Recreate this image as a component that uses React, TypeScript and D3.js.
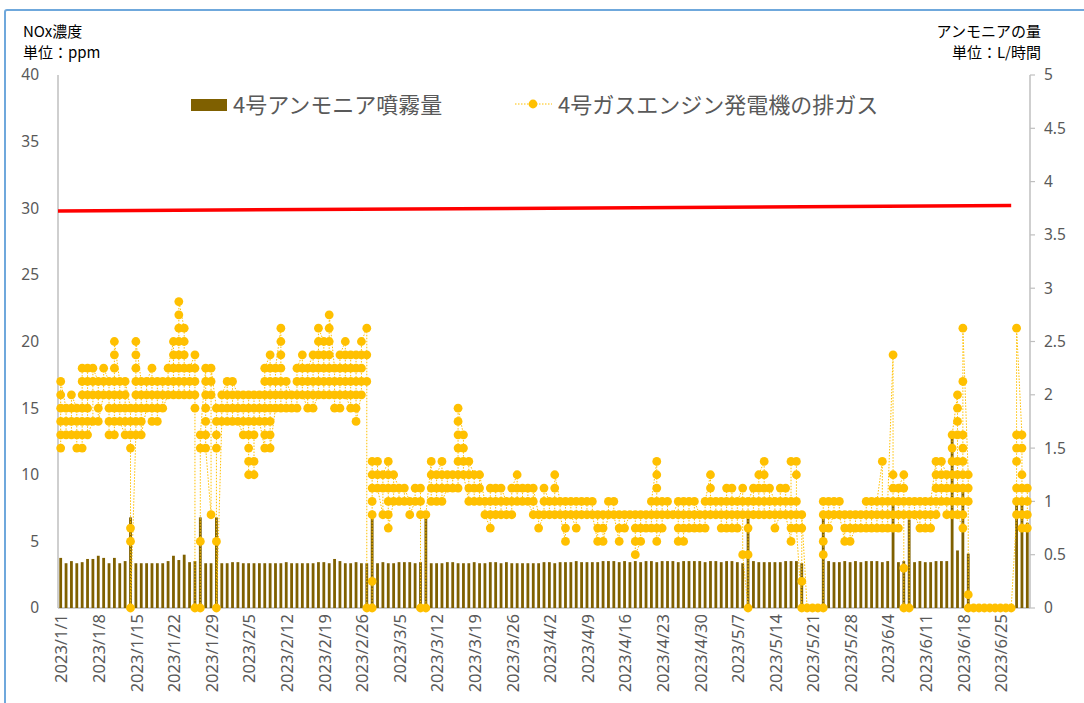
import React from 'react';
import * as d3 from 'd3';

// 2023/1/1 .. 2023/6/30
const dates = d3.timeDay.range(new Date(2023, 0, 1), new Date(2023, 6, 1));
const fmt = d3.timeFormat('%Y/%-m/%-d');

// 4号アンモニア噴霧量 (L/時間), one value per day
const ammoniaJan = [0.47, 0.42, 0.44, 0.42, 0.43, 0.46, 0.46, 0.49, 0.47, 0.42, 0.47, 0.42, 0.44, 0.85, 0.42, 0.42, 0.42, 0.42, 0.42, 0.42, 0.44, 0.49, 0.45, 0.5, 0.43, 0.44, 0.85, 0.42, 0.42, 0.85, 0.42];
const ammoniaFeb = [0.42, 0.43, 0.43, 0.42, 0.42, 0.42, 0.42, 0.42, 0.42, 0.42, 0.42, 0.43, 0.42, 0.42, 0.42, 0.42, 0.42, 0.43, 0.43, 0.42, 0.46, 0.44, 0.42, 0.42, 0.43, 0.42, 0.42, 0.84];
const ammoniaMar = [0.42, 0.43, 0.42, 0.42, 0.43, 0.43, 0.43, 0.42, 0.43, 0.85, 0.42, 0.42, 0.42, 0.43, 0.43, 0.42, 0.42, 0.42, 0.43, 0.42, 0.42, 0.43, 0.43, 0.42, 0.43, 0.42, 0.42, 0.42, 0.42, 0.42, 0.42];
const ammoniaApr = [0.43, 0.43, 0.42, 0.43, 0.43, 0.43, 0.44, 0.43, 0.43, 0.43, 0.43, 0.44, 0.44, 0.44, 0.43, 0.44, 0.43, 0.44, 0.43, 0.44, 0.44, 0.43, 0.44, 0.44, 0.44, 0.43, 0.44, 0.44, 0.44, 0.44];
const ammoniaMay = [0.43, 0.44, 0.44, 0.43, 0.44, 0.44, 0.43, 0.42, 0.84, 0.44, 0.43, 0.43, 0.43, 0.43, 0.43, 0.44, 0.44, 0.44, 0.42, 0, 0, 0, 0.85, 0.44, 0.43, 0.43, 0.44, 0.43, 0.44, 0.43, 0.44];
const ammoniaJun = [0.44, 0.44, 0.43, 0.44, 1.0, 0.43, 0.44, 0.83, 0.43, 0.44, 0.43, 0.43, 0.44, 0.44, 0.44, 1.6, 0.54, 1.1, 0.51, 0, 0, 0, 0, 0, 0, 0, 0, 1.03, 1.0, 0.8];
const ammonia = [...ammoniaJan, ...ammoniaFeb, ...ammoniaMar, ...ammoniaApr, ...ammoniaMay, ...ammoniaJun];

// 4号ガスエンジン発電機の排ガス NOx (ppm), readings of each day
const noxJan = [
  [12, 13, 14, 15, 16, 17], [13, 14, 15], [13, 14, 15, 16], [12, 13, 14, 15], [12, 13, 14, 15, 16, 17, 18],
  [13, 14, 15, 16, 17, 18], [14, 16, 17, 18], [14, 15, 16, 17], [16, 17, 18], [13, 14, 15, 16, 17],
  [13, 14, 15, 16, 17, 18, 19, 20], [14, 15, 16, 17], [13, 14, 15, 16, 17], [0, 5, 6, 12, 13, 14, 15],
  [13, 14, 15, 16, 17, 18, 19, 20], [13, 14, 15, 16, 17], [15, 16, 17], [14, 15, 16, 17, 18], [14, 15, 16, 17],
  [15, 16, 17], [16, 17, 18], [16, 17, 18, 19, 20], [16, 17, 18, 19, 20, 21, 22, 23], [16, 17, 18, 19, 20, 21],
  [16, 17, 18], [0, 15, 16, 17, 18, 19], [0, 5, 12, 13], [12, 13, 14, 15, 16, 17, 18], [7, 16, 17, 18],
  [0, 5, 12, 13, 14, 15], [14, 15, 16],
];
const noxFeb = [
  [14, 15, 16, 17], [14, 15, 16, 17], [14, 15, 16], [13, 14, 15, 16], [10, 11, 12, 13, 14, 15, 16],
  [10, 11, 13, 14, 15, 16], [14, 15, 16], [12, 13, 14, 15, 16, 17, 18], [12, 13, 14, 15, 16, 17, 18, 19],
  [15, 16, 17, 18], [15, 16, 17, 18, 19, 20, 21], [15, 16, 17], [15, 16], [15, 16, 17, 18], [16, 17, 18, 19],
  [15, 16, 17, 18], [15, 16, 17, 18, 19], [16, 17, 18, 19, 20, 21], [16, 17, 18, 19, 20],
  [16, 17, 18, 19, 20, 21, 22], [15, 16, 17, 18], [15, 16, 17, 18, 19], [16, 17, 18, 19, 20],
  [15, 16, 17, 18, 19], [14, 15, 16, 17, 18, 19], [16, 17, 18, 19, 20], [0, 17, 19, 21], [0, 2, 7, 8, 9, 10, 11],
];
const noxMar = [
  [9, 10, 11], [7, 9, 10], [6, 7, 8, 9, 10, 11], [8, 9, 10], [8, 9], [8, 9], [7, 8], [8, 9], [0, 7, 8, 9], [0, 7],
  [8, 9, 10, 11], [8, 9, 10], [8, 9, 10, 11], [9, 10], [9, 10], [9, 10, 11, 12, 13, 14, 15], [10, 11, 12, 13],
  [8, 9, 10, 11], [8, 9, 10], [8, 9, 10], [7, 8], [6, 7, 8, 9], [7, 8, 9], [7, 8, 9], [7, 8], [7, 8, 9],
  [8, 9, 10], [8, 9], [8, 9], [7, 8, 9], [6, 7],
];
const noxApr = [
  [7, 8, 9], [7, 8], [7, 8, 9, 10], [7, 8], [5, 6, 7, 8], [7, 8], [6, 7, 8], [7, 8], [7, 8], [7, 8],
  [5, 6, 7], [5, 6, 7], [7, 8], [7, 8], [5, 6, 7], [6, 7], [7], [4, 5, 6, 7], [5, 6, 7], [6, 7],
  [6, 7, 8], [5, 6, 7, 8, 9, 10, 11], [6, 7, 8], [7, 8], [7], [5, 6, 7, 8], [5, 6, 7, 8], [6, 7, 8], [6, 7, 8], [6, 7],
];
const noxMay = [
  [6, 7, 8], [7, 8, 9, 10], [7, 8], [6, 7, 8], [6, 7, 8, 9], [6, 7, 8, 9], [6, 7, 8], [4, 7, 8, 9], [0, 4, 6, 7, 8],
  [7, 8, 9], [7, 8, 9, 10], [7, 8, 9, 10, 11], [7, 8, 9], [6, 7, 8], [7, 8, 9], [7, 8, 9], [5, 6, 7, 8, 11],
  [6, 7, 8, 10, 11], [0, 2, 6, 7], [0], [0], [0], [0, 4, 5, 6, 7, 8], [6, 7, 8], [7, 8], [7, 8], [5, 6, 7],
  [5, 6, 7], [6, 7], [6, 7], [6, 7, 8],
];
const noxJun = [
  [6, 7, 8], [6, 7, 8], [6, 7, 8, 11], [6, 7, 8], [6, 7, 8, 9, 10, 19], [6, 7, 8, 9], [0, 3, 7, 8, 9, 10],
  [0, 7, 8], [7, 8], [6, 7, 8], [6, 7, 8], [6, 7, 8], [7, 8, 9, 10, 11], [8, 9, 10, 11], [7, 8, 9, 10],
  [7, 8, 9, 10, 11, 12, 13], [7, 8, 9, 10, 11, 13, 14, 15, 16], [6, 7, 8, 9, 10, 11, 12, 13, 17, 21],
  [0, 1, 8, 9, 10], [0], [0], [0], [0], [0], [0], [0], [0], [7, 8, 9, 11, 12, 13, 21], [6, 7, 8, 9, 10, 12, 13],
  [6, 7, 8, 9],
];
const nox = [...noxJan, ...noxFeb, ...noxMar, ...noxApr, ...noxMay, ...noxJun];

// red reference line (ppm) from 2023/1/1 to 2023/6/27
const limitValues = [29.8, 30.2];
const limitEndIndex = 177;

const leftTicks = [0, 5, 10, 15, 20, 25, 30, 35, 40];
const rightTicks = [0, 0.5, 1, 1.5, 2, 2.5, 3, 3.5, 4, 4.5, 5];

const W = 1084;
const H = 703;
const FONT = '"Noto Sans CJK JP", "Noto Sans", sans-serif';
const NUM_FONT = '"Noto Sans", sans-serif';
const GOLD = '#FFC000';
const BROWN = '#7F6000';
const GREY = '#595959';

export default function App() {
  const x = d3.scaleBand<number>().domain(d3.range(dates.length)).range([58, 1030]);
  const cx = (i: number) => (x(i) as number) + x.bandwidth() / 2;
  const yL = d3.scaleLinear().domain([0, 40]).range([608, 75]);
  const yR = d3.scaleLinear().domain([0, 5]).range([608, 75]);

  const pts: { i: number; v: number }[] = [];
  nox.forEach((vals, i) => {
    const ordered = i % 2 ? [...vals].reverse() : vals;
    ordered.forEach((v) => pts.push({ i, v }));
  });
  const line = d3.line<{ i: number; v: number }>().x((d) => cx(d.i)).y((d) => yL(d.v));

  const limitPath = d3.line<number>()
    .x((_, k) => (k === 0 ? x.range()[0] : cx(limitEndIndex)))
    .y((v) => yL(v))(limitValues);

  const barW = 2.8;

  return (
    <svg width={W} height={H} style={{ position: 'absolute', left: 0, top: 0, background: '#fff' }} fontFamily={FONT}>
      <rect x={5} y={10} width={1200} height={900} fill="none" stroke="#6fa8dc" strokeWidth={2} rx={2} />

      {/* axis titles */}
      <text x={23} y={37} fontSize={15} fill="#000">NOx濃度</text>
      <text x={23} y={58} fontSize={15} fill="#000">単位：ppm</text>
      <text x={1041} y={37} fontSize={15} fill="#000" textAnchor="end">アンモニアの量</text>
      <text x={1041} y={58} fontSize={15} fill="#000" textAnchor="end">単位：L/時間</text>

      {/* axes */}
      <line x1={58} x2={58} y1={75} y2={608} stroke="#bfbfbf" strokeWidth={1.5} />
      <line x1={1030} x2={1030} y1={75} y2={608} stroke="#bfbfbf" strokeWidth={1.5} />
      <line x1={58} x2={1030} y1={608} y2={608} stroke="#bfbfbf" strokeWidth={1.5} />
      {leftTicks.map((t) => (
        <text key={'l' + t} x={39} y={yL(t)} dy="0.35em" fontSize={15.5} fontFamily={NUM_FONT} fill={GREY} textAnchor="end">{t}</text>
      ))}
      {rightTicks.map((t) => (
        <g key={'r' + t}>
          <line x1={1030} x2={1035} y1={yR(t)} y2={yR(t)} stroke="#bfbfbf" strokeWidth={1.2} />
          <text x={1044} y={yR(t)} dy="0.35em" fontSize={15.5} fontFamily={NUM_FONT} fill={GREY}>{t}</text>
        </g>
      ))}
      {dates.map((d, i) =>
        i % 7 === 0 ? (
          <text key={'x' + i} x={cx(i) + 1} y={614} dy="0.35em" fontSize={16.5} fontFamily={NUM_FONT} fill={GREY} textAnchor="end"
            transform={`rotate(-90 ${cx(i) + 1} 614)`}>{fmt(d)}</text>
        ) : null
      )}

      {/* ammonia bars */}
      {ammonia.map((v, i) => (
        v > 0 ? <rect key={'b' + i} x={cx(i) - barW / 2} y={yR(v)} width={barW} height={yR(0) - yR(v)} fill={BROWN} /> : null
      ))}

      {/* NOx series */}
      <path d={line(pts) || ''} fill="none" stroke={GOLD} strokeWidth={1} strokeDasharray="1.5,1.5" />
      {pts.map((p, k) => (
        <circle key={'p' + k} cx={cx(p.i)} cy={yL(p.v)} r={4.4} fill={GOLD} />
      ))}

      {/* reference line */}
      <path d={limitPath || ''} fill="none" stroke="#FF0000" strokeWidth={3.5} />

      {/* legend */}
      <rect x={191} y={99} width={36} height={12} fill={BROWN} />
      <text x={233} y={113} fontSize={22} fill={GREY}>4号アンモニア噴霧量</text>
      <line x1={515} x2={552} y1={104} y2={104} stroke={GOLD} strokeWidth={1} strokeDasharray="1.5,1.5" />
      <circle cx={533} cy={104} r={4.4} fill={GOLD} />
      <text x={558} y={113} fontSize={22} fill={GREY}>4号ガスエンジン発電機の排ガス</text>
    </svg>
  );
}
